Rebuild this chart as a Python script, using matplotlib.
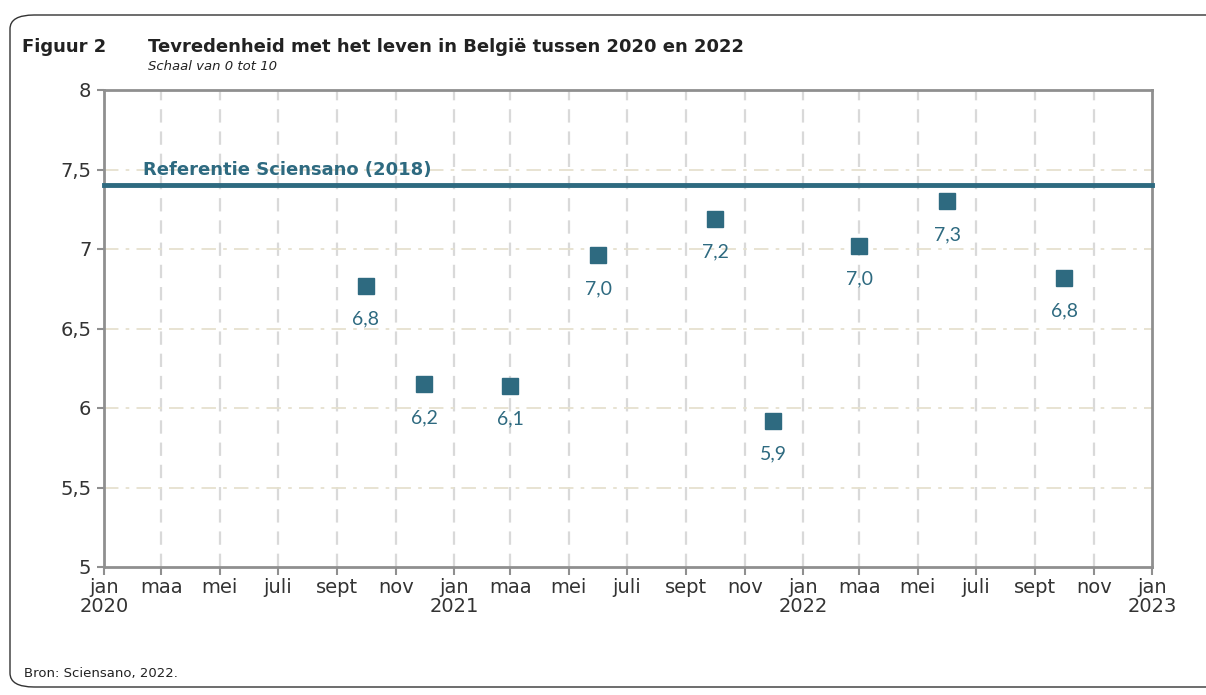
import matplotlib.pyplot as plt
import matplotlib.dates as mdates
from matplotlib.patches import FancyBboxPatch
from matplotlib.ticker import FuncFormatter
import numpy as np

# Data
surveyDates = ["2020-10-01", "2020-12-01", "2021-03-01", "2021-06-01", "2021-10-01",
               "2021-12-01", "2022-03-01", "2022-06-01", "2022-10-01"]
satisfaction = [6.77, 6.15, 6.14, 6.96, 7.19, 5.92, 7.02, 7.30, 6.82]
satisfactionLabels = ["6,8", "6,2", "6,1", "7,0", "7,2", "5,9", "7,0", "7,3", "6,8"]
referenceValue = 7.4
referenceLabel = "Referentie Sciensano (2018)"

monthNames = ["jan", "maa", "mei", "juli", "sept", "nov"]
tickYears = [2020, 2021, 2022]

teal = "#2e6a80"
spineGray = "#8f8f8f"

fig = plt.figure(figsize=(12.06, 6.95), dpi=100)

# Rounded frame around the figure
frame = FancyBboxPatch((10 / 1206, 8 / 695), 1.05, 672 / 695,
                       boxstyle="round,pad=0,rounding_size=0.02",
                       transform=fig.transFigure, fill=False,
                       edgecolor="#333333", linewidth=1.0, clip_on=False)
fig.patches.append(frame)

ax = fig.add_axes([104 / 1206, 1 - 567 / 695, (1152 - 104) / 1206, (567 - 90) / 695])

xDates = mdates.datestr2num(surveyDates)
ax.plot(xDates, satisfaction, linestyle="none", marker="s", markersize=11,
        color=teal, zorder=4)
for x, y, lab in zip(xDates, satisfaction, satisfactionLabels):
    ax.annotate(lab, (x, y), xytext=(0, -24), textcoords="offset points",
                ha="center", va="center", fontsize=14, color=teal, family="Lato")

ax.axhline(referenceValue, color=teal, linewidth=3.5, clip_on=False, zorder=3)
ax.text(mdates.datestr2num("2020-02-11"), referenceValue + 0.04, referenceLabel,
        color=teal, fontsize=13, fontweight="bold", va="bottom", ha="left")

# Axis scales
ax.set_xlim(mdates.datestr2num("2020-01-01"), mdates.datestr2num("2023-01-01"))
ax.set_ylim(5, 8)

tickPos = []
tickLabels = []
for year in tickYears + [2023]:
    for i, name in enumerate(monthNames):
        if year == 2023 and i > 0:
            break
        tickPos.append(mdates.datestr2num("%d-%02d-01" % (year, 2 * i + 1)))
        tickLabels.append("%s\n%d" % (name, year) if i == 0 else name)
ax.set_xticks(tickPos)
ax.set_xticklabels(tickLabels, fontsize=14, color="#333333", linespacing=1.0)

ax.set_yticks(np.arange(5, 8.01, 0.5))
ax.yaxis.set_major_formatter(FuncFormatter(lambda v, p: ("%g" % v).replace(".", ",")))
ax.tick_params(axis="y", labelsize=14, labelcolor="#333333", length=5,
               color=spineGray, width=1.5, pad=4)
ax.tick_params(axis="x", length=6, color=spineGray, width=1.5, pad=2)

# Grid
for x in tickPos[1:-1]:
    ax.axvline(x, color="#d9d9d9", linewidth=1.6, dashes=(6, 4), zorder=1)
for y in np.arange(5.5, 8, 0.5):
    ax.axhline(y, color="#e6e1cf", linewidth=1.3, linestyle=(0, (8, 4, 2, 4)), zorder=1)

for s in ax.spines.values():
    s.set_color(spineGray)
    s.set_linewidth(2)

fig.text(22 / 1206, 1 - 47 / 695, "Figuur 2", fontsize=13, fontweight="bold",
         va="center", color="#222222")
fig.text(148 / 1206, 1 - 47 / 695, "Tevredenheid met het leven in België tussen 2020 en 2022",
         fontsize=13, fontweight="bold", va="center", color="#222222")
fig.text(148 / 1206, 1 - 67 / 695, "Schaal van 0 tot 10", fontsize=9.5, style="italic",
         va="center", color="#222222")
fig.text(24 / 1206, 1 - 673 / 695, "Bron: Sciensano, 2022.", fontsize=9.5,
         va="center", color="#222222")

fig.savefig("out.png", dpi=100)
